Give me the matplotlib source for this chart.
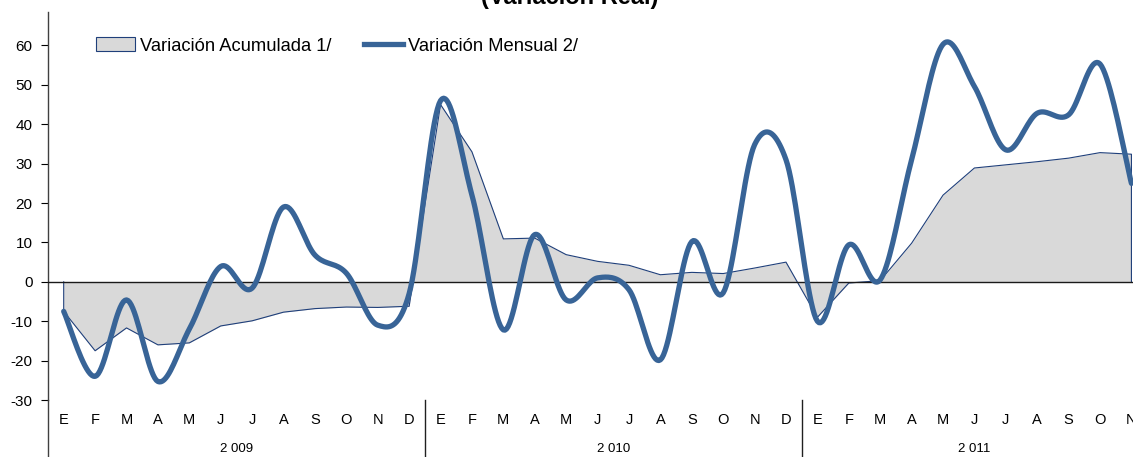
import numpy as np
import matplotlib
matplotlib.use("Agg")
import matplotlib.pyplot as plt
from matplotlib.patches import Patch
from matplotlib.lines import Line2D
from matplotlib.transforms import blended_transform_factory

# Meses (E 2009 - N 2011) y años
months = ["E", "F", "M", "A", "M", "J", "J", "A", "S", "O", "N", "D"] * 2 + \
         ["E", "F", "M", "A", "M", "J", "J", "A", "S", "O", "N"]
years = ["2 009", "2 010", "2 011"]

# Variación acumulada (área)
acumulada = [-7.5, -17.5, -11.7, -16.0, -15.5, -11.2, -9.9, -7.7, -6.8, -6.4, -6.5, -6.2,
             45.0, 33.0, 10.9, 11.1, 6.9, 5.2, 4.2, 1.8, 2.4, 2.1, 3.5, 5.0,
             -9.0, -0.3, 0.3, 9.8, 22.0, 28.9, 29.7, 30.5, 31.4, 32.8, 32.4]

# Variación mensual (línea suavizada)
mensual = [-7.5, -24.0, -4.6, -25.3, -12.0, 3.9, -1.6, 19.0, 6.8, 2.2, -11.0, -3.0,
           46.0, 22.0, -12.2, 12.0, -4.6, 1.0, -2.0, -19.8, 10.2, -2.8, 34.8, 31.0,
           -10.0, 9.4, 0.5, 31.0, 60.3, 49.6, 33.5, 42.8, 42.4, 55.3, 25.0]

AREA_FILL = "#D9D9D9"
AREA_EDGE = "#1F3F7A"
LINE_COL = "#386497"


def suavizar(x, y, n=20):
    # curva tipo Excel (Bezier con tangentes Catmull-Rom)
    x = np.asarray(x, float)
    y = np.asarray(y, float)
    px = np.concatenate([[x[0]], x, [x[-1]]])
    py = np.concatenate([[y[0]], y, [y[-1]]])
    t = np.linspace(0, 1, n, endpoint=False)
    xs, ys = [], []
    for i in range(len(x) - 1):
        p0, p1, p2, p3 = (np.array([px[i + k], py[i + k]]) for k in range(4))
        c1 = p1 + (p2 - p0) / 6
        c2 = p2 - (p3 - p1) / 6
        b = ((1 - t) ** 3)[:, None] * p1 + (3 * (1 - t) ** 2 * t)[:, None] * c1 + \
            (3 * (1 - t) * t ** 2)[:, None] * c2 + (t ** 3)[:, None] * p2
        xs.append(b[:, 0])
        ys.append(b[:, 1])
    xs.append([x[-1]])
    ys.append([y[-1]])
    return np.concatenate(xs), np.concatenate(ys)


plt.rcParams["font.family"] = ["Liberation Sans", "DejaVu Sans"]

fig = plt.figure(figsize=(11.33, 4.57), dpi=100)
ax = fig.add_axes([48 / 1133, 57 / 457, 1085 / 1133, 388 / 457])

x = np.arange(len(months))

# área acumulada
ax.fill_between(x, 0, acumulada, color=AREA_FILL, zorder=1, linewidth=0)
ax.plot(np.concatenate([[0], x, [x[-1]]]), [0] + acumulada + [0],
        color=AREA_EDGE, linewidth=0.8, zorder=2)

ax.axhline(0, color="#1a1a1a", linewidth=1.0, zorder=3)

# línea mensual
sx, sy = suavizar(x, mensual)
ax.plot(sx, sy, color=LINE_COL, linewidth=3.8, solid_capstyle="round", zorder=4)

ax.set_xlim(-0.5, 34.05)
ax.set_ylim(-30, 68.5)
ax.set_yticks(range(-30, 61, 10))
ax.set_yticklabels([str(v) for v in range(-30, 61, 10)], fontsize=11)
ax.tick_params(axis="y", direction="out", length=5, width=0.8, pad=6)
ax.set_xticks([])

for s in ["top", "right", "bottom"]:
    ax.spines[s].set_visible(False)
ax.spines["left"].set_color("#404040")
ax.spines["left"].set_linewidth(1.0)

# ejes de categorías (meses y años)
tr = blended_transform_factory(ax.transData, ax.transAxes)
bot = -57 / 388
ax.plot([-0.5, -0.5], [0, bot], transform=tr, color="#404040", lw=1.0, clip_on=False)
for sep in [11.5, 23.5]:
    ax.plot([sep, sep], [0, bot], transform=tr, color="#202020", lw=1.0, clip_on=False)
for i, m in enumerate(months):
    ax.text(i, -20 / 388, m, transform=tr, ha="center", va="center", fontsize=10.5)
for j, yr in enumerate(years):
    centro = [5.5, 17.5, 29.0][j]
    ax.text(centro, -49 / 388, yr, transform=tr, ha="center", va="center", fontsize=9.5)

# leyenda
handles = [Patch(facecolor=AREA_FILL, edgecolor=AREA_EDGE, linewidth=0.8),
           Line2D([0], [0], color=LINE_COL, linewidth=3.8)]
leg = ax.legend(handles, ["Variación Acumulada 1/", "Variación Mensual 2/"],
                loc="center left", bbox_to_anchor=(48 / 1085, (400 - 46) / 388), ncol=2,
                frameon=False, fontsize=13.2, borderpad=0, borderaxespad=0,
                handlelength=2.15, handleheight=0.8, handletextpad=0.25,
                columnspacing=1.75)

# título (cortado en la parte superior)
fig.text(570 / 1133, 1 - 9 / 457, "(Variación Real)", ha="center", va="bottom",
         fontsize=17, fontweight="bold")

fig.savefig("out.png", dpi=100)
